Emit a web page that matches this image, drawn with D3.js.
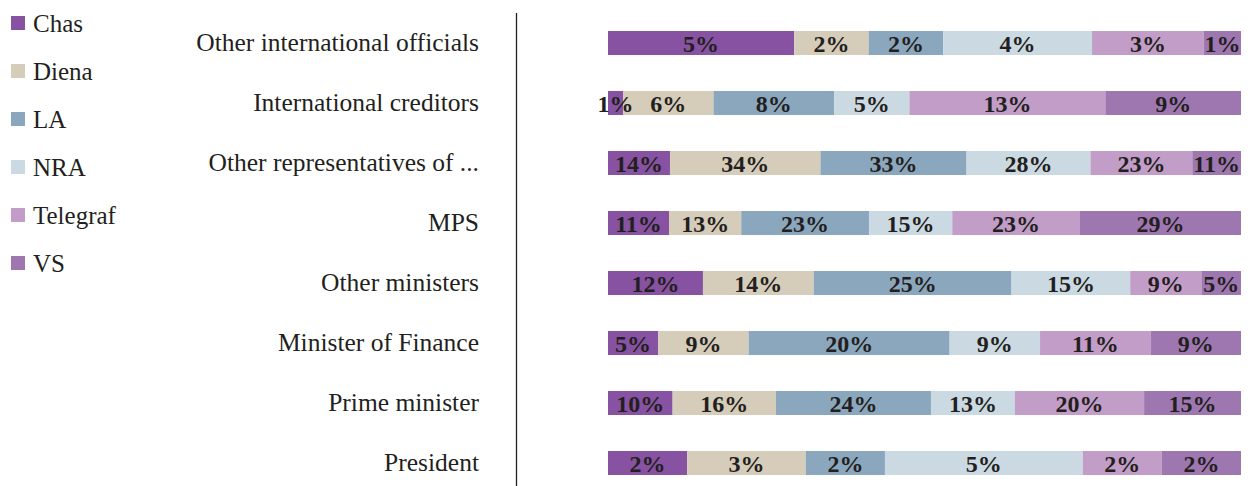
<!DOCTYPE html>
<html>
<head>
<meta charset="utf-8">
<script src="https://cdn.jsdelivr.net/npm/d3@7"></script>
<style>
  body { margin: 0; background: #fff; }
  svg { display: block; }
  text { font-family: "Liberation Serif", "Times New Roman", serif; }
</style>
</head>
<body>
<svg id="chart" width="1248" height="486"></svg>
<script>
// sources (legend order) and their colours
const sources = ["Chas", "Diena", "LA", "NRA", "Telegraf", "VS"];
const colors = ["#8652a1", "#d5ccb9", "#8ba7bd", "#cbdae2", "#c19dc7", "#9e77b1"];

// categories, top to bottom
const categories = [
    "Other international officials",
    "International creditors",
    "Other representatives of ...",
    "MPS",
    "Other ministers",
    "Minister of Finance",
    "Prime minister",
    "President"
];

// percentages per source, in category order
const chas     = [5, 1, 14, 11, 12, 5, 10, 2];
const diena    = [2, 6, 34, 13, 14, 9, 16, 3];
const la       = [2, 8, 33, 23, 25, 20, 24, 2];
const nra      = [4, 5, 28, 15, 15, 9, 13, 5];
const telegraf = [3, 13, 23, 23, 9, 11, 20, 2];
const vs       = [1, 9, 11, 29, 5, 9, 15, 2];

const seriesValues = [chas, diena, la, nra, telegraf, vs];

const rows = categories.map((c, i) => {
    const r = { category: c };
    sources.forEach((s, j) => r[s] = seriesValues[j][i]);
    return r;
});

const svg = d3.select("#chart");
const serif = "Liberation Serif, Times New Roman, serif";

// each bar is stretched to 100% of its own row total
const stacked = d3.stack()
    .keys(sources)
    .offset(d3.stackOffsetExpand)(rows);

const x = d3.scaleLinear().domain([0, 1]).range([608, 1241]);
const y = d3.scaleBand()
    .domain(categories)
    .range([13, 493])
    .paddingInner(0.6)
    .paddingOuter(0.3);

const color = d3.scaleOrdinal().domain(sources).range(colors);

// Bars.
const layers = svg.selectAll("g.layer")
    .data(stacked)
    .enter()
    .append("g")
    .attr("class", "layer")
    .attr("fill", d => color(d.key));

layers.selectAll("rect")
    .data(d => d)
    .enter()
    .append("rect")
    .attr("x", d => x(d[0]))
    .attr("width", d => x(d[1]) - x(d[0]))
    .attr("y", d => y(d.data.category))
    .attr("height", y.bandwidth());

// value labels
stacked.forEach(layer => {
    svg.append("g")
        .selectAll("text")
        .data(layer)
        .enter()
        .append("text")
        .attr("x", d => (x(d[0]) + x(d[1])) / 2)
        .attr("y", d => y(d.data.category) + y.bandwidth() / 2 + 1)
        .attr("dy", "0.34em")
        .attr("text-anchor", "middle")
        .attr("font-family", serif)
        .attr("font-size", 24)
        .attr("font-weight", "bold")
        .attr("fill", "#231f20")
        .text(d => d.data[layer.key] + "%");
});

// Category labels.
svg.append("g")
    .selectAll("text")
    .data(categories)
    .enter()
    .append("text")
    .attr("x", 479)
    .attr("y", d => y(d) + y.bandwidth() / 2)
    .attr("dy", "0.32em")
    .attr("text-anchor", "end")
    .attr("font-family", serif)
    .attr("font-size", 25.5)
    .attr("fill", "#231f20")
    .text(d => d);

// axis line between labels and bars
svg.append("line")
    .attr("x1", 516.5).attr("x2", 516.5)
    .attr("y1", 13).attr("y2", 486)
    .attr("stroke", "#231f20")
    .attr("stroke-width", 1.3);

// legend
const legend = svg.append("g")
    .selectAll("g")
    .data(sources)
    .enter()
    .append("g")
    .attr("transform", (d, i) => `translate(11, ${16 + 48 * i})`);

legend.append("rect")
    .attr("width", 14)
    .attr("height", 14)
    .attr("fill", d => color(d));

legend.append("text")
    .attr("x", 22)
    .attr("y", 8)
    .attr("dy", "0.32em")
    .attr("font-family", serif)
    .attr("font-size", 25)
    .attr("fill", "#231f20")
    .text(d => d);
</script>
</body>
</html>
